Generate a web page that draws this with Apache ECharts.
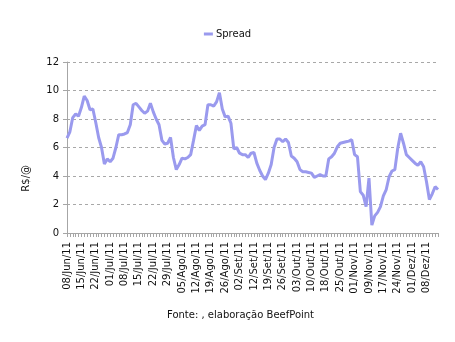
<!DOCTYPE html>
<html>
<head>
<meta charset="utf-8">
<script src="https://cdn.jsdelivr.net/npm/echarts@6/dist/echarts.min.js"></script>
<style>
  html, body { margin: 0; padding: 0; background: #fff; }
  #chart { width: 455px; height: 342px; }
</style>
</head>
<body>
<div id="chart"></div>
<script>
// Trading days, Jun–Dec 2011 (labels shown every 5th day)
const dates = [
  '08/Jun/11','09/Jun/11','10/Jun/11','13/Jun/11','14/Jun/11',
  '15/Jun/11','16/Jun/11','17/Jun/11','20/Jun/11','21/Jun/11',
  '22/Jun/11','24/Jun/11','27/Jun/11','29/Jun/11','30/Jun/11',
  '01/Jul/11','04/Jul/11','05/Jul/11','06/Jul/11','07/Jul/11',
  '08/Jul/11','11/Jul/11','12/Jul/11','13/Jul/11','14/Jul/11',
  '15/Jul/11','18/Jul/11','19/Jul/11','20/Jul/11','21/Jul/11',
  '22/Jul/11','25/Jul/11','26/Jul/11','27/Jul/11','28/Jul/11',
  '29/Jul/11','01/Ago/11','02/Ago/11','03/Ago/11','04/Ago/11',
  '05/Ago/11','08/Ago/11','09/Ago/11','10/Ago/11','11/Ago/11',
  '12/Ago/11','15/Ago/11','16/Ago/11','17/Ago/11','18/Ago/11',
  '19/Ago/11','22/Ago/11','23/Ago/11','24/Ago/11','25/Ago/11',
  '26/Ago/11','29/Ago/11','30/Ago/11','31/Ago/11','01/Set/11',
  '02/Set/11','05/Set/11','06/Set/11','08/Set/11','09/Set/11',
  '12/Set/11','13/Set/11','14/Set/11','15/Set/11','16/Set/11',
  '19/Set/11','20/Set/11','21/Set/11','22/Set/11','23/Set/11',
  '26/Set/11','27/Set/11','28/Set/11','29/Set/11','30/Set/11',
  '03/Out/11','04/Out/11','05/Out/11','06/Out/11','07/Out/11',
  '10/Out/11','11/Out/11','13/Out/11','14/Out/11','17/Out/11',
  '18/Out/11','19/Out/11','20/Out/11','21/Out/11','24/Out/11',
  '25/Out/11','26/Out/11','27/Out/11','28/Out/11','31/Out/11',
  '01/Nov/11','03/Nov/11','04/Nov/11','07/Nov/11','08/Nov/11',
  '09/Nov/11','10/Nov/11','11/Nov/11','14/Nov/11','16/Nov/11',
  '17/Nov/11','18/Nov/11','21/Nov/11','22/Nov/11','23/Nov/11',
  '24/Nov/11','25/Nov/11','28/Nov/11','29/Nov/11','30/Nov/11',
  '01/Dez/11','02/Dez/11','05/Dez/11','06/Dez/11','07/Dez/11',
  '08/Dez/11','09/Dez/11','12/Dez/11','13/Dez/11','14/Dez/11'
];

// Spread, R$/@
const spread = [
  6.65, 7.1, 8.1, 8.35, 8.2, 8.8, 9.6, 9.3, 8.65, 8.7,
  7.75, 6.7, 6.0, 4.85, 5.2, 5.0, 5.25, 6.0, 6.9, 6.9,
  6.95, 7.05, 7.6, 9.0, 9.1, 8.85, 8.6, 8.4, 8.55, 9.1,
  8.5, 8.0, 7.6, 6.5, 6.25, 6.3, 6.7, 5.3, 4.45, 4.8,
  5.25, 5.2, 5.3, 5.5, 6.5, 7.55, 7.2, 7.5, 7.6, 9.0,
  9.0, 8.9, 9.2, 9.85, 8.7, 8.15, 8.2, 7.7, 5.9, 6.0,
  5.6, 5.5, 5.5, 5.3, 5.6, 5.65, 4.9, 4.4, 4.0, 3.75,
  4.2, 4.8, 6.0, 6.6, 6.6, 6.4, 6.6, 6.35, 5.4, 5.25,
  5.0, 4.45, 4.3, 4.3, 4.25, 4.2, 3.9, 4.0, 4.1, 4.0,
  4.0, 5.2, 5.35, 5.6, 6.05, 6.3, 6.35, 6.4, 6.45, 6.55,
  5.5, 5.35, 2.9, 2.65, 1.85, 3.85, 0.55, 1.2, 1.45, 1.85,
  2.6, 3.05, 3.95, 4.35, 4.45, 5.95, 7.0, 6.3, 5.5, 5.3,
  5.1, 4.9, 4.75, 5.0, 4.65, 3.6, 2.35, 2.75, 3.25, 3.05
];

const yTicks = { min: 0, max: 12, step: 2 };
const seriesName = 'Spread';
const yTitle = 'R$/@';
const footnote = 'Fonte: , elaboração BeefPoint';

const FONT = 'DejaVu Sans';
const AXIS_GRAY = '#a6a6a6';
const LINE_COLOR = '#9a9aee';

const chart = echarts.init(document.getElementById('chart'), null, { renderer: 'canvas' });

chart.setOption({
  animation: false,
  backgroundColor: '#ffffff',
  textStyle: { fontFamily: FONT },
  legend: {
    data: [seriesName],
    top: 24,
    left: 'center',
    icon: 'rect',
    itemWidth: 9,
    itemHeight: 3,
    itemGap: 4,
    textStyle: { fontFamily: FONT, fontSize: 10, color: '#111', padding: [0, 0, 0, -2] }
  },
  grid: { left: 67, right: 17, top: 62, bottom: 109, containLabel: false },
  xAxis: {
    type: 'category',
    data: dates,
    boundaryGap: false,
    axisLine: { lineStyle: { color: AXIS_GRAY, width: 1 } },
    axisTick: { show: true, interval: 0, length: 4, lineStyle: { color: AXIS_GRAY } },
    axisLabel: {
      interval: 4,
      rotate: 90,
      margin: 9,
      fontFamily: FONT,
      fontSize: 10,
      color: '#111'
    },
    splitLine: { show: false }
  },
  yAxis: {
    type: 'value',
    min: yTicks.min,
    max: yTicks.max,
    interval: yTicks.step,
    axisLine: { show: true, lineStyle: { color: AXIS_GRAY, width: 1 } },
    axisTick: { show: true, length: 4, lineStyle: { color: AXIS_GRAY } },
    axisLabel: { margin: 8, fontFamily: FONT, fontSize: 10, color: '#111' },
    splitLine: { show: true, lineStyle: { color: '#a8a8a8', type: [3, 3], width: 1 } }
  },
  graphic: [
    {
      type: 'text',
      left: 21,
      top: 165,
      rotation: Math.PI / 2,
      style: { text: yTitle, font: '10px "DejaVu Sans"', fill: '#111' }
    },
    {
      type: 'text',
      left: 167,
      top: 310,
      style: { text: footnote, font: '10px "DejaVu Sans"', fill: '#111' }
    }
  ],
  series: [{
    name: seriesName,
    type: 'line',
    data: spread,
    symbol: 'none',
    smooth: false,
    lineStyle: { color: LINE_COLOR, width: 3 },
    itemStyle: { color: LINE_COLOR }
  }]
});
</script>
</body>
</html>
